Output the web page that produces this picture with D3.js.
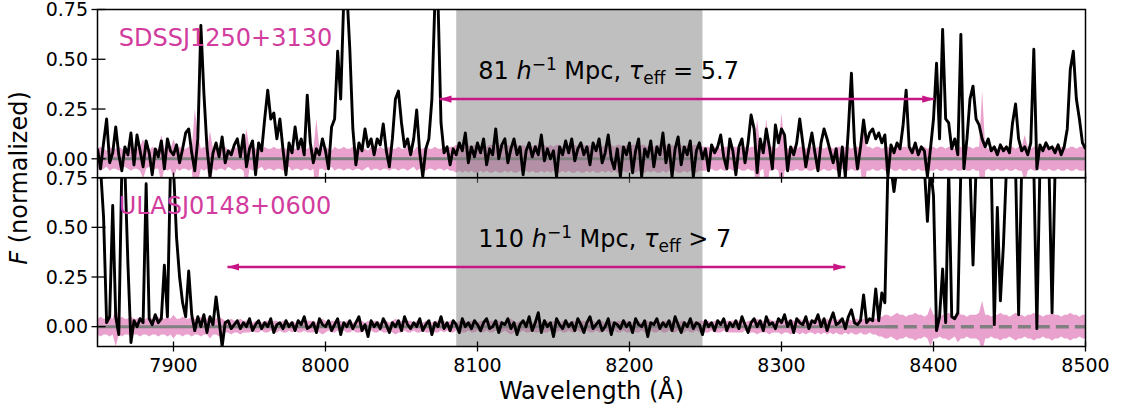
<!DOCTYPE html>
<html><head><meta charset="utf-8">
<script src="https://cdn.jsdelivr.net/npm/d3@7"></script>
<style>body{margin:0;background:#fff}svg{display:block}</style>
</head><body>
<svg id="chart" width="1126" height="412"></svg>
<script>
// ---------------- data ----------------
const waveStart = 7850, waveStep = 2;           // wavelength grid (Å)
const xDomain = [7850, 8500];
const xTicks = [7900, 8000, 8100, 8200, 8300, 8400, 8500];
const yTicks = [0, 0.25, 0.5, 0.75];
const yTickLabels = ["0.00", "0.25", "0.50", "0.75"];
const yDomainTop = [-0.095, 0.75];
const yDomainBot = [-0.1, 0.75];
const grayBand = [8086, 8248];
const quasarNames = ["SDSSJ1250+3130", "ULASJ0148+0600"];
const arrowTop = [8075, 8400.5, 0.3];
const arrowBot = [7935.5, 8342, 0.3];
const notePos = [8100.5, 0.4];
const namePos = [7864, 0.567];
const zeroDashStart = 8368;

const fluxTop = [
0.05,-0.05,0.08,0.20,-0.02, 0.03,0.16,0.02,-0.06,0.06,
0.02,0.13,-0.03,0.12,0.04, -0.04,0.09,0.03,-0.08,0.05,
0.01,0.09,-0.05,0.10,0.04, 0.02,0.07,-0.02,0.05,0.13,
0.15,0.03,-0.06,0.10,0.67, 0.33,0.06,-0.09,0.03,0.08,
0.01,0.11,-0.02,0.04,0.02, 0.07,0.10,0.01,0.12,-0.04,
0.05,0.09,-0.08,0.08,0.04, 0.20,0.345,0.20,0.23,0.10,
0.20,0.05,-0.08,0.08,0.03, 0.16,0.05,0.10,0.02,0.32,
0.08,-0.02,0.05,0.02,0.10, 0.04,-0.05,0.16,0.20,0.54,
0.30,0.80,0.85,0.55,0.15, -0.03,0.08,0.04,0.15,0.06,
0.10,0.02,0.10,0.07,0.175, 0.04,-0.04,0.10,0.30,0.34,
0.18,0.06,0.10,0.02,0.10, 0.245,0.03,-0.09,0.05,0.10,
0.30,0.80,0.80,0.18,0.03, 0.06,-0.03,0.05,0.02,0.08,
0.04,0.13,-0.02,0.06,0.01, 0.08,0.03,0.10,-0.03,0.05,
0.02,0.15,0.00,0.07,0.10, -0.02,0.05,0.10,0.02,0.06,
-0.08,0.04,0.08,0.01,0.06, 0.02,0.12,-0.01,0.05,0.00,
0.04,-0.09,0.06,0.02,0.09, 0.03,0.10,-0.01,0.05,0.08,
0.02,0.06,-0.03,0.08,0.04, 0.10,-0.02,0.03,0.12,0.00,
-0.05,0.05,-0.09,0.06,0.02, 0.08,-0.07,0.04,0.10,-0.09,
0.05,0.01,0.09,-0.04,0.06, 0.02,0.13,-0.02,0.07,-0.09,
0.05,0.11,-0.03,0.06,0.02, 0.09,-0.09,0.04,0.08,0.00,
0.05,-0.06,0.07,0.03,0.06, 0.12,0.01,-0.05,0.10,0.04,
-0.08,0.06,0.10,-0.02,0.08, 0.22,0.15,-0.07,0.10,0.03,
0.15,0.06,-0.05,0.17,0.08, 0.15,0.12,-0.06,0.06,0.02,
0.08,0.20,0.08,-0.04,0.05, 0.13,0.03,-0.06,0.08,0.15,
0.10,0.04,-0.02,0.05,-0.09, 0.06,-0.09,0.15,0.43,0.08,
-0.05,0.06,0.195,0.08,0.13, 0.15,0.10,0.13,0.08,0.12,
-0.09,0.07,0.03,0.08,0.05, 0.17,0.345,0.06,0.03,0.08,
0.02,0.06,0.04,-0.09,0.05, 0.20,0.48,0.10,0.65,0.20,
0.18,0.05,0.10,0.02,0.625, -0.05,0.10,0.30,0.365,0.20,
0.17,0.10,0.06,0.10,0.04, 0.06,0.02,0.07,0.04,0.06,
0.03,0.18,0.275,0.10,0.04, 0.06,0.02,0.08,0.55,-0.05,
0.07,0.04,0.08,0.05,0.06, 0.03,0.07,0.02,0.06,0.15,
0.45,0.54,0.30,0.20,0.08, 0.05
];

const errTop = [
.05,.06,.05,.04,.06,.05,.05,.06,.05,.04,
.05,.06,.05,.05,.06,.10,.05,.04,.06,.05,
.05,.12,.05,.06,.05,.10,.05,.06,.05,.05,
.06,.05,.25,.12,.05,.06,.05,.14,.05,.06,
.05,.05,.06,.04,.05,.06,.05,.05,.06,.15,
.05,.06,.05,.05,.04,.06,.05,.05,.06,.05,
.05,.06,.05,.04,.06,.05,.05,.06,.05,.05,
.06,.05,.20,.05,.05,.06,.05,.04,.06,.05,
.05,.06,.05,.05,.06,.05,.05,.06,.05,.04,
.06,.05,.05,.06,.05,.05,.06,.05,.05,.06,
.05,.05,.06,.05,.04,.06,.05,.05,.06,.05,
.05,.06,.05,.05,.06,.05,.06,.06,.07,.06,
.07,.06,.07,.06,.07,.07,.06,.07,.06,.07,
.07,.06,.07,.07,.06,.07,.06,.07,.07,.06,
.07,.06,.07,.06,.07,.07,.06,.07,.06,.07,
.06,.07,.07,.06,.07,.06,.07,.07,.06,.07,
.07,.06,.07,.06,.07,.07,.06,.07,.06,.07,
.06,.07,.07,.06,.07,.06,.07,.07,.06,.07,
.07,.06,.07,.06,.07,.07,.06,.07,.06,.07,
.06,.07,.07,.06,.07,.06,.07,.07,.06,.06,
.06,.06,.05,.06,.06,.05,.06,.06,.05,.06,
.06,.05,.06,.06,.05,.06,.06,.20,.06,.05,
.20,.06,.06,.05,.06,.23,.06,.05,.06,.06,
.05,.06,.06,.05,.06,.06,.05,.06,.06,.05,
.06,.06,.05,.06,.06,.05,.06,.06,.05,.06,
.06,.05,.20,.06,.06,.05,.06,.06,.05,.06,
.06,.05,.06,.06,.05,.06,.06,.05,.06,.06,
.05,.06,.06,.05,.06,.06,.05,.06,.06,.05,
.06,.06,.05,.06,.06,.05,.06,.06,.05,.06,
.06,.34,.06,.05,.06,.06,.05,.06,.06,.05,
.06,.06,.05,.06,.06,.12,.06,.05,.06,.06,
.05,.06,.06,.05,.06,.06,.05,.06,.06,.05,
.06,.06,.05,.06,.06,.06
];

const fluxBot = [
0.80,0.80,0.55,0.02,0.05, 0.61,0.05,-0.04,0.80,0.80,
0.32,-0.08,0.03,0.00,0.04, 0.02,0.72,0.04,0.01,0.06,
0.02,0.04,0.31,0.05,0.80, 0.80,0.45,0.25,0.12,0.05,
0.28,0.06,-0.02,0.05,0.00, 0.06,-0.03,0.05,0.01,0.15,
0.03,-0.10,0.02,0.03,-0.01,
0.01,0.03,-0.01,0.02,0.00,0.04,-0.02,0.01,0.03,-0.01,
0.02,0.00,0.04,-0.03,0.01,0.02,-0.01,0.03,0.00,0.02,
-0.02,0.03,0.01,0.05,-0.01,0.00,0.02,-0.03,0.04,0.01,
0.00,0.03,-0.02,0.01,0.04,-0.04,0.02,0.00,0.03,-0.01,
0.02,0.05,-0.02,0.01,-0.05,0.03,0.00,0.02,-0.01,0.04,
0.01,-0.03,0.02,0.00,0.03,-0.02,0.05,0.01,-0.01,0.02,
0.00,0.04,-0.02,0.01,0.03,-0.04,0.02,0.00,0.05,-0.01,
0.02,-0.02,0.03,0.01,-0.03,0.04,0.00,0.02,-0.01,0.03,
0.01,-0.02,0.02,0.04,-0.01,0.00,0.03,-0.03,0.02,0.01,
0.04,-0.01,0.02,-0.04,0.01,0.03,0.00,0.05,-0.02,0.02,
0.07,-0.03,0.03,0.00,0.02,-0.05,0.04,0.01,-0.01,0.03,
0.00,0.02,-0.02,0.04,0.01,-0.03,0.02,0.05,-0.01,0.01,
0.03,-0.02,0.00,0.04,-0.04,0.02,0.01,-0.01,0.03,0.00,
0.02,-0.03,0.04,0.01,0.00,0.03,-0.05,0.02,0.01,0.04,
-0.01,0.02,0.00,0.03,-0.02,0.05,0.01,-0.03,0.02,0.00,
0.04,-0.01,0.02,0.01,-0.04,0.03,0.00,0.02,-0.02,0.03,
0.01,0.04,-0.02,0.02,0.00,0.03,-0.01,0.05,0.01,-0.03,
0.02,0.04,0.00,0.03,-0.02,0.05,0.01,0.02,-0.01,0.04,
0.02,0.06,0.00,0.03,-0.03,0.04,0.02,0.01,0.05,-0.01,
0.03,0.02,0.06,0.00,0.04,-0.02,0.03,0.07,0.01,0.02,
0.04,-0.01,0.05,0.085,0.02,0.01,0.03,0.16,0.02,0.04,
0.03,0.19,0.03,
0.17,0.12,0.80,0.80,0.68,0.80,0.80,0.80,0.80,0.80,
0.80,0.80,0.80,0.80,0.80,0.53,0.80,0.66,-0.02,0.05,
0.29,0.02,0.80,0.05,0.04,0.07,0.80,0.80,0.80,0.80,
0.31,0.80,0.80,0.80,0.80,0.80,0.80,0.01,0.60,0.13,
0.41,0.80,0.80,0.80,0.80,0.06,0.80,0.80,0.80,0.80,
0.80,-0.01,0.80,0.80,0.80,0.80,0.07,0.80,0.80,0.80,
0.80,0.80,0.80,0.80,0.80,0.80,0.80,0.80
];

const errBot = [
.04,.05,.04,.04,.05,.04,.10,.04,.05,.04,
.04,.05,.04,.04,.05,.04,.04,.05,.04,.04,
.05,.04,.04,.05,.04,.06,.04,.04,.05,.04,
.04,.05,.04,.04,.05,.04,.04,.06,.04,.04,
.05,.04,.03,.03,.04,.03,.03,.04,.03,.03,
.03,.02,.03,.03,.02,.03,.03,.02,.03,.03,
.02,.03,.03,.02,.03,.02,.03,.03,.02,.03,
.03,.03,.02,.03,.04,.03,.02,.03,.03,.02,
.03,.02,.03,.03,.02,.03,.03,.03,.02,.03,
.02,.03,.03,.02,.03,.03,.02,.03,.04,.03,
.03,.02,.03,.03,.02,.03,.03,.02,.03,.03,
.02,.03,.03,.02,.03,.02,.03,.03,.02,.03,
.03,.03,.02,.03,.03,.02,.03,.03,.02,.03,
.03,.02,.03,.03,.02,.03,.04,.03,.02,.03,
.02,.03,.03,.02,.03,.03,.02,.03,.03,.02,
.03,.03,.02,.03,.03,.02,.03,.03,.02,.03,
.03,.02,.03,.03,.02,.03,.03,.02,.03,.03,
.02,.03,.03,.02,.03,.03,.02,.03,.03,.02,
.03,.03,.02,.03,.03,.02,.03,.03,.02,.03,
.03,.02,.03,.03,.02,.03,.03,.02,.03,.03,
.03,.03,.02,.03,.03,.03,.02,.03,.03,.03,
.03,.03,.03,.02,.03,.03,.03,.04,.03,.03,
.03,.04,.03,.03,.03,.04,.03,.03,.04,.03,
.03,.04,.03,.04,.03,.03,.04,.03,.04,.03,
.04,.03,.04,.03,.04,.04,.03,.04,.03,.04,
.04,.03,.04,.04,.03,.04,.04,.05,
.05,.06,.06,.05,.06,.07,.06,.06,.05,.06,
.06,.07,.06,.06,.05,.06,.10,.06,.06,.05,
.06,.06,.07,.06,.05,.08,.06,.06,.05,.06,
.06,.06,.07,.13,.06,.06,.05,.06,.06,.07,
.06,.06,.05,.06,.07,.06,.06,.05,.06,.06,
.07,.06,.06,.05,.06,.06,.07,.06,.06,.05,
.06,.06,.07,.06,.06,.05,.06,.06
];

// ---------------- drawing ----------------
const FONT = "'DejaVu Sans', sans-serif";
const pink = "#c71585", pinkText = "#d23c9e";
const svg = d3.select("#chart");
const defs = svg.append("defs");
const x = d3.scaleLinear().domain(xDomain).range([97.5, 1085.5]);
const wave = i => waveStart + i * waveStep;

defs.append("marker").attr("id", "ah").attr("viewBox", "0 0 12 8")
  .attr("refX", 12).attr("refY", 4).attr("markerUnits", "userSpaceOnUse")
  .attr("markerWidth", 12).attr("markerHeight", 8).attr("orient", "auto-start-reverse")
  .append("path").attr("d", "M0,0.4 L12,4 L0,7.6 Z").attr("fill", pink);

const panels = [
  {flux: fluxTop, err: errTop, dom: yDomainTop, top: 9.5, bottom: 177.7, name: quasarNames[0],
   arrow: arrowTop, note: [["81 "], ["h", "i"], ["−1", "sup"], [" Mpc, "], ["τ", "i"], ["eff", "sub"], [" = 5.7"]], dashed: false},
  {flux: fluxBot, err: errBot, dom: yDomainBot, top: 177.7, bottom: 346.5, name: quasarNames[1],
   arrow: arrowBot, note: [["110 "], ["h", "i"], ["−1", "sup"], [" Mpc, "], ["τ", "i"], ["eff", "sub"], [" > 7"]], dashed: true}
];

panels.forEach((p, k) => {
  const y = d3.scaleLinear().domain(p.dom).range([p.bottom, p.top]);
  const cid = "clip" + k;
  defs.append("clipPath").attr("id", cid).append("rect")
    .attr("x", x(xDomain[0])).attr("y", p.top).attr("width", x(xDomain[1]) - x(xDomain[0])).attr("height", p.bottom - p.top);
  const g = svg.append("g").attr("clip-path", `url(#${cid})`);

  // error band
  const area = d3.area().x((d, i) => x(wave(i))).y0(d => y(-d)).y1(d => y(d));
  g.append("path").datum(p.err).attr("d", area).attr("fill", pink).attr("fill-opacity", 0.4);

  // zero line
  const zl = d3.line().x(d => x(d)).y(() => y(0));
  if (p.dashed) {
    g.append("path").datum([xDomain[0], zeroDashStart]).attr("d", zl)
      .attr("stroke", "#808080").attr("stroke-width", 3).attr("fill", "none");
    g.append("path").datum([zeroDashStart, xDomain[1]]).attr("d", zl)
      .attr("stroke", "#808080").attr("stroke-width", 3.5).attr("fill", "none").attr("stroke-dasharray", "13,6");
  } else {
    g.append("path").datum(xDomain).attr("d", zl)
      .attr("stroke", "#808080").attr("stroke-width", 3).attr("fill", "none");
  }

  // gray band
  g.append("rect").attr("x", x(grayBand[0])).attr("width", x(grayBand[1]) - x(grayBand[0]))
    .attr("y", p.top).attr("height", p.bottom - p.top).attr("fill", "#808080").attr("fill-opacity", 0.5);

  // spectrum
  const line = d3.line().x((d, i) => x(wave(i))).y(d => y(d));
  g.append("path").datum(p.flux).attr("d", line).attr("fill", "none")
    .attr("stroke", "#000").attr("stroke-width", 2.9).attr("stroke-linejoin", "round");

  // arrow
  svg.append("line").attr("x1", x(p.arrow[0])).attr("x2", x(p.arrow[1]))
    .attr("y1", y(p.arrow[2])).attr("y2", y(p.arrow[2]))
    .attr("stroke", pink).attr("stroke-width", 2.6)
    .attr("marker-start", "url(#ah)").attr("marker-end", "url(#ah)");

  // note text
  const t = svg.append("text").attr("x", x(notePos[0])).attr("y", y(notePos[1]))
    .attr("font-family", FONT).attr("font-size", 24).attr("fill", "#000");
  let shift = 0;
  p.note.forEach(([s, kind]) => {
    const ts = t.append("tspan").text(s);
    let target = 0;
    if (kind === "sup") { target = -9; ts.attr("font-size", 17); }
    else if (kind === "sub") { target = 5; ts.attr("font-size", 17); }
    if (kind === "i") ts.attr("font-style", "italic");
    ts.attr("dy", target - shift);
    shift = target;
  });

  // name
  svg.append("text").attr("x", x(namePos[0])).attr("y", y(namePos[1]))
    .attr("font-family", FONT).attr("font-size", 24).attr("fill", pinkText).text(p.name);

  // frame
  svg.append("rect").attr("x", x(xDomain[0])).attr("y", p.top)
    .attr("width", x(xDomain[1]) - x(xDomain[0])).attr("height", p.bottom - p.top)
    .attr("fill", "none").attr("stroke", "#000").attr("stroke-width", 1.5);

  // y ticks
  yTicks.forEach((v, j) => {
    svg.append("line").attr("x1", x(xDomain[0]) - 6).attr("x2", x(xDomain[0]) + 8)
      .attr("y1", y(v)).attr("y2", y(v)).attr("stroke", "#000").attr("stroke-width", 1.3);
    svg.append("text").attr("x", x(xDomain[0]) - 9.5).attr("y", y(v)).attr("dy", "0.36em")
      .attr("text-anchor", "end").attr("font-family", FONT).attr("font-size", 19).text(yTickLabels[j]);
  });
  // x ticks
  xTicks.forEach(v => {
    svg.append("line").attr("x1", x(v)).attr("x2", x(v))
      .attr("y1", p.bottom - 5).attr("y2", p.bottom + 5).attr("stroke", "#000").attr("stroke-width", 1.3);
    if (k === 1) {
      svg.append("text").attr("x", x(v)).attr("y", 371.5).attr("text-anchor", "middle")
        .attr("font-family", FONT).attr("font-size", 19).text(v);
    }
  });
});

// axis labels
svg.append("text").attr("x", 591.5).attr("y", 399).attr("text-anchor", "middle")
  .attr("font-family", FONT).attr("font-size", 24).text("Wavelength (Å)");
const yl = svg.append("text").attr("transform", "translate(27,178) rotate(-90)")
  .attr("text-anchor", "middle").attr("font-family", FONT).attr("font-size", 24);
yl.append("tspan").attr("font-style", "italic").text("F");
yl.append("tspan").text(" (normalized)");
</script>
</body></html>
